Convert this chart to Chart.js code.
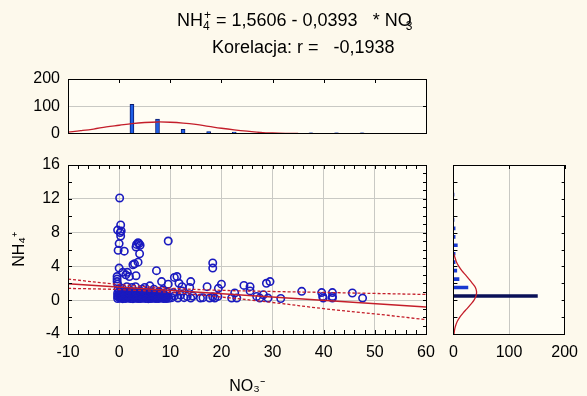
<!DOCTYPE html>
<html>
<head>
<meta charset="utf-8">
<script src="https://cdn.jsdelivr.net/npm/chart.js@4/dist/chart.umd.min.js"></script>
<style>
  html, body { margin: 0; padding: 0; background: #fdf9ec; }
  #wrap { position: relative; width: 587px; height: 396px; overflow: hidden; }
  canvas { position: absolute; }
</style>
</head>
<body>
<div id="wrap">
  <canvas id="mainChart" width="587" height="396" style="left:0;top:0;width:587px;height:396px"></canvas>
  <canvas id="topHist" width="440" height="91" style="left:0;top:60px;width:440px;height:91px"></canvas>
  <canvas id="rightHist" width="147" height="246" style="left:440px;top:150px;width:147px;height:246px"></canvas>
</div>
<script>
// --- dane ---
// punkty: [NO3-, NH4+]
const outlierPts = [
  [0.1,12.1],[0.3,8.9],[-0.3,8.3],[0.4,8.2],[0.2,8.0],[0.3,7.6],[0.0,6.7],[-0.2,5.9],[1.0,5.8],
  [0.0,3.8],[-0.4,2.8],[-0.4,2.5],[-0.4,2.2],[-0.3,1.9],[0.7,3.3],[1.3,3.0],[1.6,3.3],[2.0,2.8],
  [2.7,4.2],[3.0,4.3],[3.3,2.9],[3.4,6.6],[3.7,6.8],[3.9,6.7],[4.1,6.5],[3.3,6.3],[4.0,5.5],[3.7,4.5],
  [9.6,7.0],[7.3,3.5],[8.3,2.2],[10.8,2.7],[11.3,2.8],[11.7,2.0],[9.6,1.9],[14.0,2.2],[13.8,1.5],[12.3,1.6],
  [18.3,4.4],[18.3,3.8],[17.2,1.6],[19.4,1.4],[20.0,1.9],[24.4,1.75],[25.6,1.6],[25.6,1.1],[28.8,2.0],[29.5,2.2],
  [35.7,1.05],[39.6,0.9],[41.7,0.9],[45.6,0.85],[47.6,0.25],[39.8,0.45],[41.7,0.45],[39.9,0.25],[41.7,0.25],
  [31.6,0.2],[29.1,0.25],[27.5,0.25],[26.9,0.45],[28.2,0.65],[22.6,0.85],[22.0,0.25],[23.0,0.25],
  [6.0,1.7],[5.0,1.5],[4.5,1.3],[2.5,1.5],[1.5,1.6],[8.5,1.2],[0.6,1.4],[-0.2,1.3],[3.2,1.6],[6.8,1.3]
];
const clusterPts = [
  [-0.3,0.2],[0.2,0.22],[0.7,0.18],[1.2,0.2],[1.7,0.25],[2.2,0.2],[2.7,0.18],[3.2,0.22],[3.7,0.2],[4.2,0.2],
  [4.7,0.24],[5.2,0.2],[5.7,0.18],[6.2,0.2],[6.7,0.22],[7.2,0.2],[7.7,0.2],[8.2,0.25],[8.7,0.2],[9.2,0.2],[9.7,0.22],
  [-0.1,0.36],[0.4,0.35],[0.9,0.38],[1.4,0.34],[1.9,0.36],[2.4,0.35],[2.9,0.38],[3.4,0.35],[3.9,0.34],[4.4,0.36],
  [4.9,0.35],[5.4,0.38],[5.9,0.35],[6.4,0.34],[6.9,0.36],[7.4,0.35],[7.9,0.38],[8.4,0.35],[8.9,0.34],[9.4,0.36],
  [-0.3,0.5],[0.2,0.52],[0.7,0.5],[1.2,0.48],[1.7,0.5],[2.2,0.52],[2.7,0.5],[3.2,0.48],[3.7,0.5],[4.2,0.52],
  [4.7,0.5],[5.2,0.48],[5.7,0.5],[6.2,0.52],[6.7,0.5],[7.2,0.48],[7.7,0.5],[8.2,0.52],[8.7,0.5],[9.3,0.5],
  [-0.1,0.66],[0.4,0.65],[0.9,0.68],[1.4,0.64],[1.9,0.66],[2.4,0.65],[2.9,0.68],[3.4,0.65],[3.9,0.64],[4.4,0.66],
  [4.9,0.65],[5.4,0.68],[5.9,0.65],[6.4,0.64],[6.9,0.66],[7.5,0.65],[8.1,0.68],[8.8,0.64],
  [-0.3,0.82],[0.3,0.8],[0.9,0.84],[1.5,0.8],[2.1,0.82],[2.7,0.8],[3.3,0.84],[3.9,0.8],[4.5,0.82],[5.1,0.8],
  [5.8,0.84],[6.5,0.8],[7.3,0.82],[8.3,0.8],
  [0.0,1.0],[0.8,1.05],[1.6,0.98],[2.4,1.02],[3.3,1.0],[4.2,1.05],[5.2,0.98],[6.3,1.0],[7.8,1.02],[9.3,0.95],
  [10.3,0.3],[10.8,0.5],[11.5,0.25],[12.0,0.6],[12.7,0.3],[13.3,0.45],[14.0,0.25],[14.4,0.5],[15.9,0.25],
  [17.7,0.25],[18.3,0.4],[18.7,0.25],[19.3,0.45],[10.6,0.9],[12.3,1.1],[16.4,0.3]
];

// regresja i przedzial ufnosci
const fitLine  = [[-10,1.95],[60,-0.8]];
const bandX    = [-10, 0, 10, 20, 30, 40, 50, 60];
const bandHigh = [2.5, 1.86, 1.42, 1.17, 1.03, 0.92, 0.8, 0.68];
const bandLow  = [1.4, 1.26, 0.92, 0.37, -0.27, -1.0, -1.62, -2.3];

// histogram NO3- (gora)
const no3Bins   = [2.5, 7.5, 12.5, 17.5, 22.5, 27.5, 32.5, 37.5, 42.5, 47.5];
const no3Counts = [107, 53, 15, 7, 5, 5, 1, 2, 2, 2];
const no3Curve  = [[-10,5],[-7.5,10],[-5,16],[-2.5,24],[0,30],[2.5,36],[5,40],[7.5,42],[10,41],[12.5,38],
                   [15,33],[17.5,26],[20,19],[22.5,13],[25,8],[27.5,4],[30,1.5],[32.5,0.3],[35,0]];

// histogram NH4+ (prawo)
const nh4Bins   = [0.5, 1.5, 2.5, 3.5, 4.5, 5.5, 6.5, 7.5, 8.5, 9.5, 12.5];
const nh4Counts = [151, 26, 10, 6, 3, 3, 7, 3, 3, 1, 1];
const nh4Curve  = [[-4,1],[-3.5,2],[-3,4],[-2.5,7],[-2,11.5],[-1.5,17.5],[-1,24.5],[-0.5,31],[0,37],[0.5,40.5],
                   [1,41.6],[1.5,39.5],[2,34],[2.5,28],[3,21.7],[3.5,15],[4,9.7],[4.5,5.5],[5,3],[5.5,0.5]];

const FONT = 'Liberation Sans, Arial, sans-serif';
const GRID = '#c9c9c4';
const PLOT_BG = '#fffdf4';
const RED = '#c41e2a';
const BLUE = '#1a1abf';

const toXY = arr => arr.map(p => ({ x: p[0], y: p[1] }));

// tlo obszaru wykresu + ramka + krotkie znaczniki do srodka
const frameTicks = {
  id: 'frameTicks',
  beforeDraw(chart) {
    const { ctx, chartArea: a } = chart;
    ctx.save();
    ctx.fillStyle = PLOT_BG;
    ctx.fillRect(a.left, a.top, a.right - a.left, a.bottom - a.top);
    ctx.restore();
  },
  afterDatasetsDraw(chart, args, o) {
    const { ctx, chartArea: a, scales } = chart;
    ctx.save();
    ctx.strokeStyle = '#000';
    ctx.lineWidth = 1;
    (o.sides || []).forEach(s => {
      const sc = scales[s.axis];
      for (let v = sc.min; v <= sc.max + 1e-9; v += s.step) {
        const p = Math.round(sc.getPixelForValue(v)) + 0.5;
        ctx.beginPath();
        if (s.edge === 'left')   { ctx.moveTo(a.left, p);  ctx.lineTo(a.left + s.len, p); }
        if (s.edge === 'right')  { ctx.moveTo(a.right, p); ctx.lineTo(a.right - s.len, p); }
        if (s.edge === 'top')    { ctx.moveTo(p, a.top);   ctx.lineTo(p, a.top + s.len); }
        if (s.edge === 'bottom') { ctx.moveTo(p, a.bottom); ctx.lineTo(p, a.bottom - s.len); }
        ctx.stroke();
      }
    });
    ctx.strokeRect(Math.round(a.left) + 0.5, Math.round(a.top) + 0.5,
      Math.round(a.right - a.left), Math.round(a.bottom - a.top));
    ctx.restore();
  }
};

// tytul z indeksami dolnymi/gornymi
const titlePlugin = {
  id: 'titleText',
  afterDraw(chart) {
    const ctx = chart.ctx;
    const big = '18px ' + FONT, small = '12px ' + FONT;
    ctx.save();
    ctx.fillStyle = '#000';
    ctx.textBaseline = 'alphabetic';
    // linia 1
    ctx.font = big;
    ctx.fillText('NH', 177, 26);
    let x = 177 + ctx.measureText('NH').width;
    ctx.font = small;
    ctx.fillText('4', x, 30);
    ctx.fillText('+', x + 1, 19);
    x += ctx.measureText('+').width + 1;
    ctx.font = big;
    const rest = ' = 1,5606 - 0,0393   * NO';
    ctx.fillText(rest, x, 26);
    x += ctx.measureText(rest).width;
    ctx.font = small;
    ctx.fillText('3', x - 6, 30);
    // linia 2
    ctx.font = big;
    ctx.fillText('Korelacja: r =   -0,1938', 212, 53);
    ctx.restore();
  }
};

Chart.defaults.font.family = FONT;
Chart.defaults.color = '#000';

new Chart(document.getElementById('mainChart'), {
  type: 'scatter',
  data: {
    datasets: [
      { type: 'line', data: toXY(fitLine), borderColor: RED, borderWidth: 1.4, pointRadius: 0, order: 0 },
      { type: 'line', data: bandX.map((x, i) => ({ x, y: bandHigh[i] })), borderColor: RED, borderWidth: 1.3,
        borderDash: [3, 2], pointRadius: 0, tension: 0.4, order: 1 },
      { type: 'line', data: bandX.map((x, i) => ({ x, y: bandLow[i] })), borderColor: RED, borderWidth: 1.3,
        borderDash: [3, 2], pointRadius: 0, tension: 0.4, order: 2 },
      { data: toXY(clusterPts.concat(outlierPts)), pointRadius: 3.7, pointBorderWidth: 1.6,
        pointBorderColor: BLUE, pointBackgroundColor: 'rgba(0,0,0,0)', order: 3 }
    ]
  },
  options: {
    responsive: false, animation: false, events: [],
    layout: { autoPadding: false, padding: { top: 165, right: 161, left: 0, bottom: 0 } },
    plugins: {
      legend: { display: false }, tooltip: { enabled: false },
      frameTicks: { sides: [
        { axis: 'y', edge: 'left', step: 2, len: 4 },
        { axis: 'y', edge: 'right', step: 1, len: 3 },
        { axis: 'x', edge: 'bottom', step: 2, len: 4 },
        { axis: 'x', edge: 'top', step: 2, len: 4 }
      ] }
    },
    scales: {
      x: {
        type: 'linear', min: -10, max: 60,
        ticks: { stepSize: 10, font: { size: 16 }, padding: 9, maxRotation: 0 },
        grid: { color: GRID, drawTicks: false },
        border: { color: '#000' },
        title: { display: true, text: 'NO₃⁻', font: { size: 16 }, padding: { top: 0, bottom: 0 } },
        afterFit: s => { s.height = 62; }
      },
      y: {
        min: -4, max: 16,
        ticks: { stepSize: 4, font: { size: 16 }, padding: 8 },
        grid: { color: GRID, drawTicks: false },
        border: { color: '#000' },
        title: { display: true, text: 'NH₄⁺', font: { size: 16 }, padding: { top: 10, bottom: 0 } },
        afterFit: s => { s.width = 68; }
      }
    }
  },
  plugins: [frameTicks, titlePlugin]
});

// dolna krawedz: etykieta "0" zabiera ok. 10 px, stad wyzsze plotno (91)
new Chart(document.getElementById('topHist'), {
  type: 'bar',
  data: {
    datasets: [
      { type: 'scatter', data: toXY(no3Curve), showLine: true, borderColor: RED, borderWidth: 1.3,
        pointRadius: 0, tension: 0.4, order: 0 },
      { data: no3Bins.map((x, i) => ({ x, y: no3Counts[i] })), backgroundColor: '#1f5fe6',
        borderColor: '#0c1a6e', borderWidth: 1, barThickness: 4, order: 1 }
    ]
  },
  options: {
    responsive: false, animation: false, events: [],
    layout: { autoPadding: false, padding: { top: 19, right: 14, left: 0, bottom: 0 } },
    plugins: {
      legend: { display: false }, tooltip: { enabled: false },
      frameTicks: { sides: [
        { axis: 'x', edge: 'top', step: 10, len: 4 },
        { axis: 'y', edge: 'right', step: 100, len: 3 }
      ] }
    },
    scales: {
      x: {
        type: 'linear', min: -10, max: 60, offset: false,
        ticks: { display: false },
        grid: { display: false, drawTicks: false },
        border: { display: false },
        afterFit: s => { s.height = 7; }
      },
      y: {
        min: 0, max: 200,
        ticks: { stepSize: 100, font: { size: 16 }, padding: 8 },
        grid: { color: GRID, drawTicks: false },
        border: { color: '#000' },
        afterFit: s => { s.width = 68; }
      }
    }
  },
  plugins: [frameTicks]
});

new Chart(document.getElementById('rightHist'), {
  type: 'bar',
  data: {
    datasets: [
      { type: 'scatter', data: nh4Curve.map(p => ({ x: p[1], y: p[0] })), showLine: true, borderColor: RED,
        borderWidth: 1.3, pointRadius: 0, tension: 0.4, order: 0 },
      { data: nh4Bins.map((y, i) => ({ x: nh4Counts[i], y })),
        backgroundColor: nh4Counts.map(c => c > 100 ? '#0a1058' : '#1838d0'),
        borderWidth: 0, barThickness: 3, order: 1 }
    ]
  },
  options: {
    responsive: false, animation: false, events: [],
    indexAxis: 'y',
    layout: { autoPadding: false, padding: { top: 15, right: 18, left: 11, bottom: 0 } },
    plugins: {
      legend: { display: false }, tooltip: { enabled: false },
      frameTicks: { sides: [
        { axis: 'y', edge: 'left', step: 2, len: 4 },
        { axis: 'y', edge: 'right', step: 2, len: 3 },
        { axis: 'x', edge: 'top', step: 100, len: 4 }
      ] }
    },
    scales: {
      x: {
        type: 'linear', min: 0, max: 200,
        ticks: { stepSize: 100, font: { size: 16 }, padding: 9, maxRotation: 0 },
        grid: { color: GRID, drawTicks: false },
        border: { color: '#000' },
        afterFit: s => { s.height = 62; }
      },
      y: { type: 'linear', min: -4, max: 16, offset: false, display: false }
    }
  },
  plugins: [frameTicks]
});
</script>
</body>
</html>
